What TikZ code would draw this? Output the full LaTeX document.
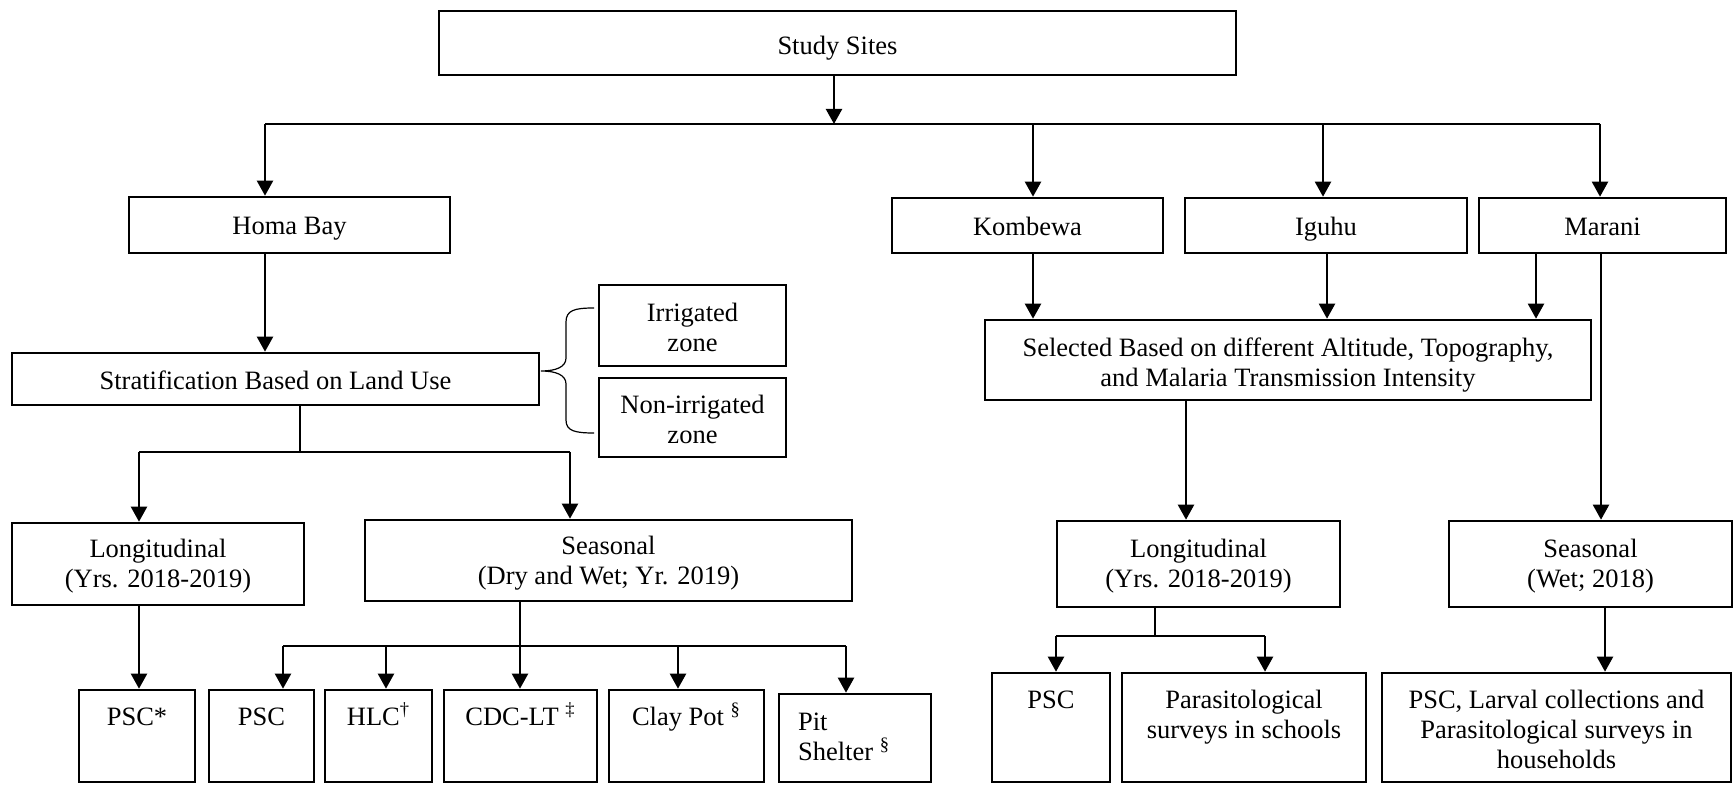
\documentclass[tikz,border=0pt]{standalone}
\usepackage{fontspec}
\setmainfont{Liberation Serif}
\usetikzlibrary{arrows.meta}
\newcommand\dfont{\fontsize{13.25}{15}\selectfont}
\begin{document}
\begin{tikzpicture}[x=0.5pt,y=-0.5pt,
  bx/.style={draw, line width=1.3pt, inner sep=0pt},
  ct/.style={inner sep=0pt, align=center, font=\dfont,
    execute at begin node=\strut, execute at end node=\strut},
  tx/.style={inner sep=0pt, align=center, font=\dfont, anchor=base},
  arr/.style={line width=1.1pt, -{Triangle[length=7.5pt,width=8pt]}},
  thinl/.style={line width=0.6pt}]
\useasboundingbox (0,0) rectangle (1734,785);
\fill[white] (0,0) rectangle (1734,785);

% boxes
\node[bx, minimum width=398.5pt, minimum height=32pt] (sites) at (837.5,43) {};
\node[bx, minimum width=160.5pt, minimum height=28pt] (homa) at (289.5,225) {};
\node[bx, minimum width=135.5pt, minimum height=27.5pt] (komb) at (1027.5,225.5) {};
\node[bx, minimum width=141pt, minimum height=27.5pt] (iguhu) at (1326,225.5) {};
\node[bx, minimum width=123.5pt, minimum height=27.5pt] (marani) at (1602.5,225.5) {};
\node[bx, minimum width=263.5pt, minimum height=26pt] (strat) at (275.5,379) {};
\node[bx, minimum width=93.5pt, minimum height=40.5pt] (irr) at (692.5,325.5) {};
\node[bx, minimum width=93.5pt, minimum height=39.5pt] (nonirr) at (692.5,417.5) {};
\node[bx, minimum width=303pt, minimum height=40pt] (sel) at (1288,360) {};
\node[bx, minimum width=146pt, minimum height=41pt] (longL) at (158,564) {};
\node[bx, minimum width=243.5pt, minimum height=40.5pt] (seasL) at (608.5,560.5) {};
\node[bx, minimum width=141.5pt, minimum height=43pt] (longR) at (1198.5,564) {};
\node[bx, minimum width=141.5pt, minimum height=43pt] (seasR) at (1590.5,564) {};

\node[bx, minimum width=58pt, minimum height=46pt] (pscstar) at (137,736) {};
\node[bx, minimum width=52.5pt, minimum height=46pt] (psc) at (261.5,736) {};
\node[bx, minimum width=53.5pt, minimum height=46pt] (hlc) at (378.5,736) {};
\node[bx, minimum width=76.5pt, minimum height=46pt] (cdc) at (520.5,736) {};
\node[bx, minimum width=77.5pt, minimum height=46pt] (clay) at (686.5,736) {};
\node[bx, minimum width=76pt, minimum height=44pt] (pit) at (855,738) {};
\node[bx, minimum width=59pt, minimum height=54.5pt] (pscR) at (1051,727.5) {};
\node[bx, minimum width=122pt, minimum height=54.5pt] (para) at (1244,727.5) {};
\node[bx, minimum width=174.5pt, minimum height=54.5pt] (larv) at (1556.5,727.5) {};

% centred texts
\node[ct] (tsites) at ([yshift=-2.8pt]sites.center) {Study Sites};
\node[ct] (thoma) at ([yshift=-1.8pt]homa.center) {Homa Bay};
\node[ct] (tkomb) at ([yshift=-1.8pt]komb.center) {Kombewa};
\node[ct] (tiguhu) at ([yshift=-1.8pt]iguhu.center) {Iguhu};
\node[ct] (tmarani) at ([yshift=-1.8pt]marani.center) {Marani};
\node[ct] (tstrat) at ([yshift=-2.2pt]strat.center) {Stratification Based on Land Use};
\node[ct] (tirr) at ([yshift=-3pt]irr.center) {Irrigated\\zone};
\node[ct] (tnonirr) at ([yshift=-3pt]nonirr.center) {Non-irrigated\\zone};
\node[ct] (tsel) at ([yshift=-3.3pt]sel.center) {Selected Based on different Altitude, Topography,\\and Malaria Transmission Intensity};
\node[ct] (tlongL) at ([yshift=-2pt]longL.center) {Longitudinal\\(Yrs. 2018-2019)};
\node[ct] (tseasL) at ([yshift=-2pt]seasL.center) {Seasonal\\(Dry and Wet; Yr. 2019)};
\node[ct] (tlongR) at ([yshift=-2pt]longR.center) {Longitudinal\\(Yrs. 2018-2019)};
\node[ct] (tseasR) at ([yshift=-2pt]seasR.center) {Seasonal\\(Wet; 2018)};

% top-aligned texts (base = baseline of last line)
\node[tx] (tpscstar) at ([yshift=-18.5pt]pscstar.north) {PSC*};
\node[tx] (tpsc) at ([yshift=-18.5pt]psc.north) {PSC};
\node[tx] (thlc) at ([yshift=-18.5pt]hlc.north) {HLC\textsuperscript{†}};
\node[tx] (tcdc) at ([yshift=-18.5pt]cdc.north) {CDC-LT \textsuperscript{‡}};
\node[tx] (tclay) at ([yshift=-18.5pt]clay.north) {Clay Pot \textsuperscript{§}};
\node[tx, anchor=base west, align=left] (tpit) at ([xshift=10pt,yshift=-34pt]pit.north west) {Pit\\Shelter \textsuperscript{§}};
\node[tx] (tpscR) at ([yshift=-18.5pt]pscR.north) {PSC};
\node[tx] (tpara) at ([yshift=-33.5pt]para.north) {Parasitological\\surveys in schools};
\node[tx] (tlarv) at ([yshift=-48.5pt]larv.north) {PSC, Larval collections and\\Parasitological surveys in\\households};

% top bus
\coordinate (b0) at (834,124);
\coordinate (bL) at (265,124);
\coordinate (bK) at (1033,124);
\coordinate (bI) at (1323,124);
\coordinate (bR) at (1600,124);
\draw[arr] (b0 |- sites.south) -- (b0);
\draw[thinl] (bL) -- (bR);
\draw[arr] (bL) -- (bL |- homa.north);
\draw[arr] (bK) -- (bK |- komb.north);
\draw[arr] (bI) -- (bI |- iguhu.north);
\draw[arr] (bR) -- (bR |- marani.north);

% Homa Bay branch
\draw[arr] ([xshift=-12.25pt]homa.south) -- ([xshift=-12.25pt]homa.south |- strat.north);
\draw[line width=0.6pt] (594,308) .. controls (575,308) and (566,310) .. (566,322) -- (566,358)
  .. controls (566,367) and (556,371) .. (541,371)
  .. controls (556,371) and (566,375) .. (566,384) -- (566,420)
  .. controls (566,431) and (575,433) .. (594,433);
\coordinate (s1) at (300,452);
\coordinate (s1a) at (139,452);
\coordinate (s1b) at (570,452);
\draw[thinl] (s1 |- strat.south) -- (s1);
\draw[thinl] (s1a) -- (s1b);
\draw[arr] (s1a) -- (s1a |- longL.north);
\draw[arr] (s1b) -- (s1b |- seasL.north);
\draw[arr] (s1a |- longL.south) -- (s1a |- pscstar.north);

\coordinate (s2) at (520,646);
\coordinate (s2a) at (283,646);
\coordinate (s2b) at (386,646);
\coordinate (s2d) at (678,646);
\coordinate (s2e) at (846,646);
\draw[thinl] (s2 |- seasL.south) -- (s2);
\draw[thinl] (s2a) -- (s2e);
\draw[arr] (s2a) -- (s2a |- psc.north);
\draw[arr] (s2b) -- (s2b |- hlc.north);
\draw[arr] (s2) -- (s2 |- cdc.north);
\draw[arr] (s2d) -- (s2d |- clay.north);
\draw[arr] (s2e) -- (s2e |- pit.north);

% right branch
\draw[arr] ([xshift=2.75pt]komb.south) -- ([xshift=2.75pt]komb.south |- sel.north);
\draw[arr] ([xshift=0.5pt]iguhu.south) -- ([xshift=0.5pt]iguhu.south |- sel.north);
\draw[arr] ([xshift=-33.25pt]marani.south) -- ([xshift=-33.25pt]marani.south |- sel.north);
\draw[arr] ([xshift=-0.75pt]marani.south) -- ([xshift=-0.75pt]marani.south |- seasR.north);
\draw[arr] ([xshift=-51pt]sel.south) -- ([xshift=-51pt]sel.south |- longR.north);
\draw[arr] ([xshift=7.25pt]seasR.south) -- ([xshift=7.25pt]seasR.south |- larv.north);

\coordinate (s3) at (1155,636);
\coordinate (s3a) at (1056,636);
\coordinate (s3b) at (1265,636);
\draw[thinl] (s3 |- longR.south) -- (s3);
\draw[thinl] (s3a) -- (s3b);
\draw[arr] (s3a) -- (s3a |- pscR.north);
\draw[arr] (s3b) -- (s3b |- para.north);
\end{tikzpicture}
\end{document}
